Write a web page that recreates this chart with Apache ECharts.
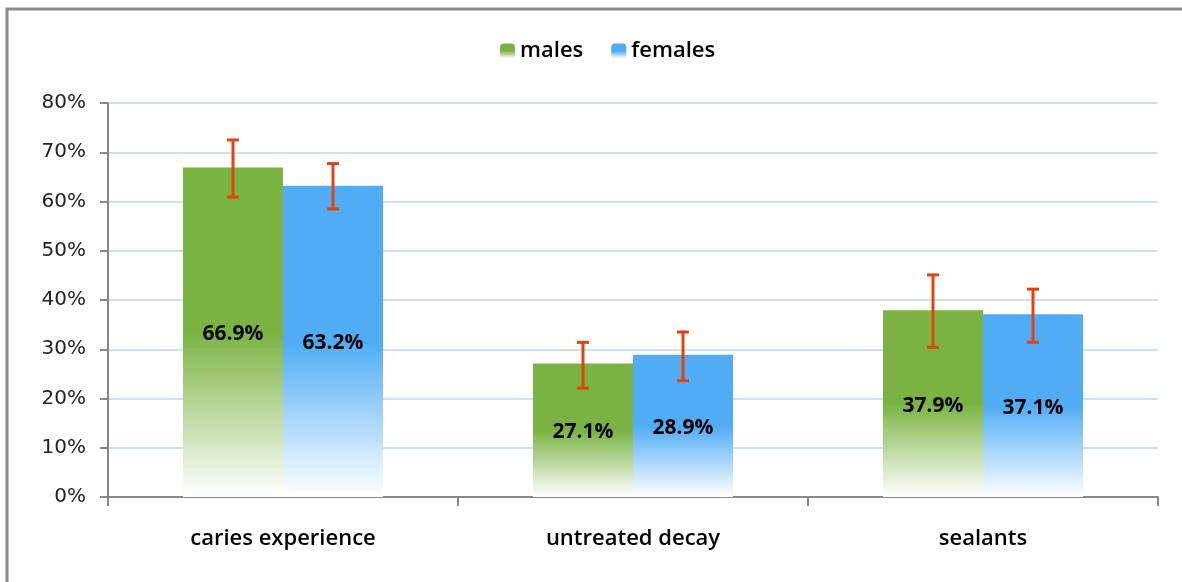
<!DOCTYPE html>
<html>
<head>
<meta charset="utf-8">
<script src="https://cdn.jsdelivr.net/npm/echarts@6/dist/echarts.min.js"></script>
<style>
  html, body { margin: 0; padding: 0; background: #fff; }
  #chart-container { width: 1182px; height: 582px; }
</style>
</head>
<body>
<div id="chart-container"></div>
<script>
// categories and values (percent)
var categories = ['caries experience', 'untreated decay', 'sealants'];
var males = [66.9, 27.1, 37.9];
var females = [63.2, 28.9, 37.1];
// error bar ranges [low, high]
var malesErr = [[60.9, 72.5], [22.1, 31.4], [30.4, 45.1]];
var femalesErr = [[58.5, 67.7], [23.6, 33.5], [31.4, 42.2]];
var yTicks = [0, 10, 20, 30, 40, 50, 60, 70, 80];

var dom = document.getElementById('chart-container');
var myChart = echarts.init(dom, null, { renderer: 'canvas' });

var BAR_W = 100;

function fade(c) {
  return new echarts.graphic.LinearGradient(0, 0, 0, 1, [
    { offset: 0, color: c },
    { offset: 0.5, color: c },
    { offset: 1, color: '#ffffff' }
  ]);
}
var green = '#7ab342';
var blue = '#4facf5';

// error bar drawn with a custom series; offset = -1 left bar, 1 right bar
function errSeries(name, err, offset) {
  return {
    name: name + ' err',
    type: 'custom',
    z: 10,
    renderItem: function (params, api) {
      var idx = api.value(0);
      var lo = api.coord([idx, api.value(1)]);
      var hi = api.coord([idx, api.value(2)]);
      var x = lo[0] + offset * BAR_W / 2;
      var cap = 6;
      var st = { stroke: '#e2430f', lineWidth: 3 };
      return {
        type: 'group',
        children: [
          { type: 'line', shape: { x1: x, y1: hi[1], x2: x, y2: lo[1] }, style: st },
          { type: 'line', shape: { x1: x - cap, y1: hi[1], x2: x + cap, y2: hi[1] }, style: st },
          { type: 'line', shape: { x1: x - cap, y1: lo[1], x2: x + cap, y2: lo[1] }, style: st }
        ]
      };
    },
    data: err.map(function (e, i) { return [i, e[0], e[1]]; })
  };
}

var labelStyle = {
  show: true,
  position: 'inside',
  offset: [0, 2],
  fontFamily: 'Open Sans',
  fontSize: 21,
  fontWeight: 'bold',
  color: '#000',
  formatter: function (p) { return p.value.toFixed(1) + '%'; }
};

var option = {
  animation: false,
  graphic: [{
    type: 'rect',
    shape: { x: 7, y: 9, width: 1400, height: 800 },
    style: { fill: 'none', stroke: '#888888', lineWidth: 3 },
    z: 0
  }],
  legend: {
    top: 35,
    left: 495,
    itemWidth: 15,
    itemHeight: 15,
    itemGap: 28,
    textStyle: { fontFamily: 'Open Sans', fontSize: 22, fontWeight: 600, color: '#000' },
    data: [
      { name: 'males', itemStyle: { color: fade(green) } },
      { name: 'females', itemStyle: { color: fade(blue) } }
    ]
  },
  grid: { left: 108, right: 24, top: 103, bottom: 85 },
  xAxis: {
    type: 'category',
    data: categories,
    axisLine: { lineStyle: { color: '#888888', width: 2 } },
    axisTick: { show: true, length: 9, lineStyle: { color: '#888888', width: 2 } },
    axisLabel: {
      margin: 31,
      fontFamily: 'Open Sans',
      fontSize: 22,
      fontWeight: 600,
      color: '#000'
    }
  },
  yAxis: {
    type: 'value',
    min: 0,
    max: 80,
    interval: 10,
    axisLine: { show: true, lineStyle: { color: '#888888', width: 2 } },
    axisTick: { show: true, length: 8, lineStyle: { color: '#888888', width: 2 } },
    splitLine: { lineStyle: { color: '#b9d8f4', width: 1.5 } },
    axisLabel: {
      margin: 22,
      fontFamily: 'DejaVu Sans',
      fontSize: 20,
      color: '#222',
      formatter: function (v) { return yTicks.indexOf(v) >= 0 ? v + '%' : ''; }
    }
  },
  series: [
    {
      name: 'males',
      type: 'bar',
      barWidth: BAR_W,
      barGap: '0%',
      itemStyle: { color: fade(green) },
      label: labelStyle,
      data: males
    },
    {
      name: 'females',
      type: 'bar',
      barWidth: BAR_W,
      barGap: '0%',
      itemStyle: { color: fade(blue) },
      label: labelStyle,
      data: females
    },
    errSeries('males', malesErr, -1),
    errSeries('females', femalesErr, 1)
  ]
};

myChart.setOption(option);
window.addEventListener('resize', myChart.resize);
</script>
</body>
</html>
